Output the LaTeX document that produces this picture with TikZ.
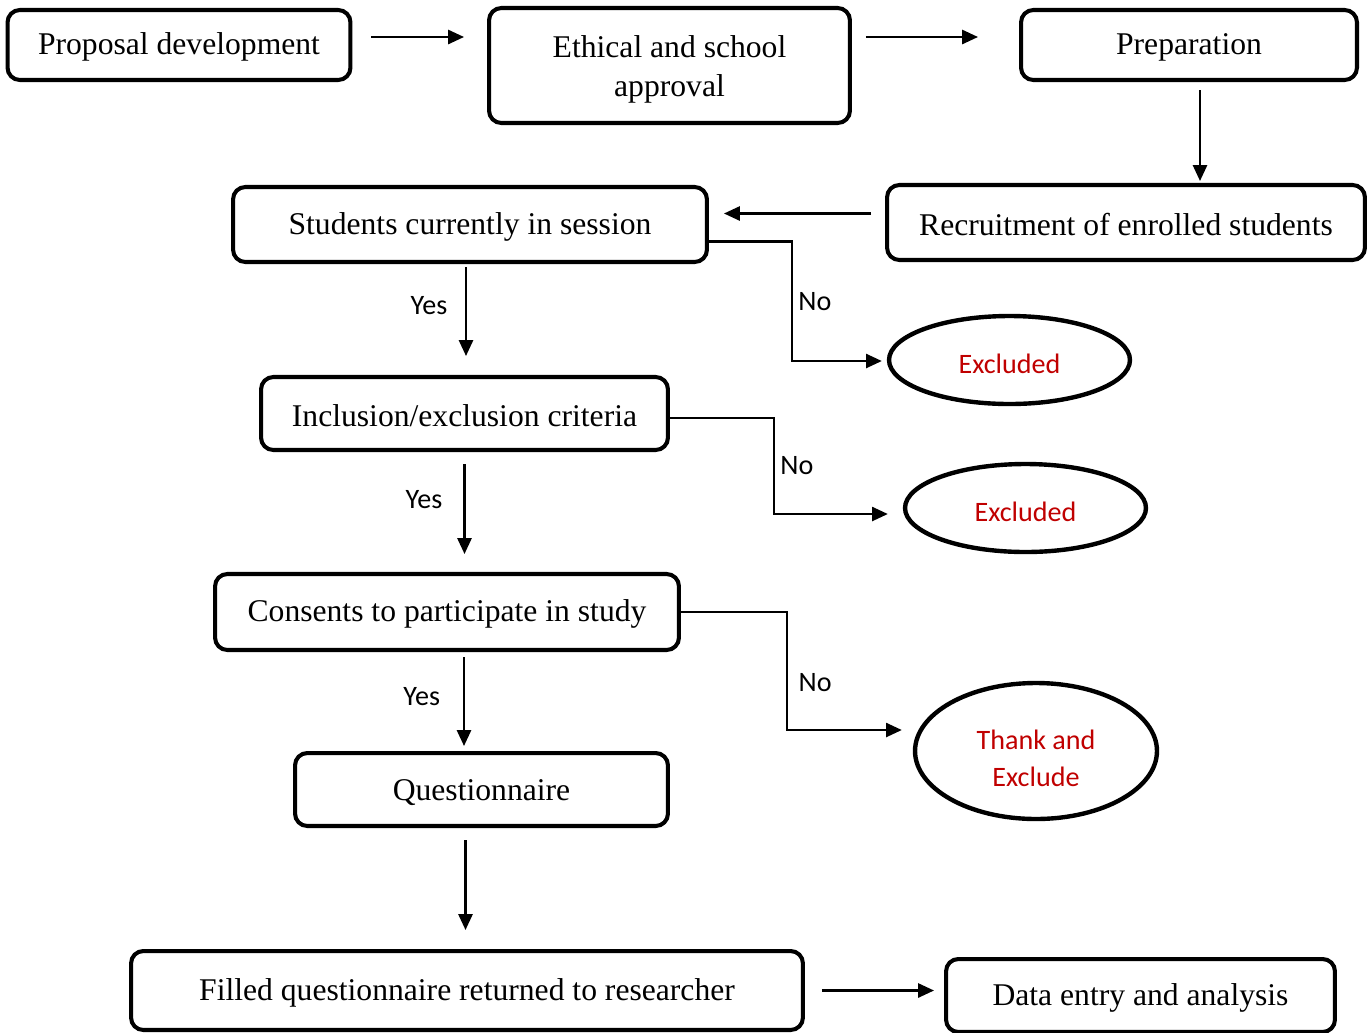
\documentclass[tikz,border=0pt]{standalone}
\usepackage{fontspec}
\setmainfont{Liberation Serif}
\newfontfamily\calibri{Carlito}
\usepackage{xcolor}
\usetikzlibrary{shapes,arrows.meta,positioning,calc}
\definecolor{exred}{RGB}{192,0,0}

\begin{document}
\begin{tikzpicture}[x=0.02cm, y=-0.02cm,
    box/.style={draw, line width=2.3pt, rounded corners=7pt, align=center, inner sep=0pt, text height=15pt, font=\fontsize{18}{22}\selectfont},
    oval/.style={draw, ellipse, line width=2.5pt, inner sep=0pt, align=center, text=exred, text height=15pt, font=\calibri\fontsize{16}{21.5}\selectfont},
    arr/.style={line width=1.3pt, -{Triangle[length=9pt,width=8pt]}},
    lbl/.style={font=\calibri\fontsize{16}{19}\selectfont, inner sep=0pt}]
    \useasboundingbox (0,0) rectangle (1369,1032);

    % top row
    \node[box, minimum width=6.86cm, minimum height=1.4cm] (proposal) at (179,45) {Proposal development};
    \node[box, minimum width=7.22cm, minimum height=2.3cm, text height=39pt] (ethics) at (669.5,65.5) {Ethical and school\\approval};
    \node[box, minimum width=6.72cm, minimum height=1.4cm] (prep) at (1189,45) {Preparation};
    \node[box, minimum width=9.56cm, minimum height=1.5cm] (recruit) at (1126,222.5) {Recruitment of enrolled students};

    % main column
    \node[box, minimum width=9.48cm, minimum height=1.5cm] (session) at (470,224.5) {Students currently in session};
    \node[box, minimum width=8.14cm, minimum height=1.46cm] (criteria) at (464.5,413.5) {Inclusion/exclusion criteria};
    \node[box, minimum width=9.28cm, minimum height=1.52cm] (consent) at (447,612) {Consents to participate in study};
    \node[box, minimum width=7.46cm, minimum height=1.46cm] (quest) at (481.5,789.5) {Questionnaire};
    \node[box, minimum width=13.44cm, minimum height=1.58cm] (filled) at (467,990.5) {Filled questionnaire returned to researcher};
    \node[box, minimum width=7.78cm, minimum height=1.46cm] (entry) at (1140.5,995.5) {Data entry and analysis};

    % exits
    \node[oval, minimum width=4.82cm, minimum height=1.76cm] (excl1) at (1009.5,360) {Excluded};
    \node[oval, minimum width=4.82cm, minimum height=1.76cm] (excl2) at (1025.5,508) {Excluded};
    \node[oval, minimum width=4.84cm, minimum height=2.72cm, text height=41pt] (thank) at (1036,751) {Thank and\\Exclude};

    % flow
    \draw[arr] ($(proposal.east)+(19,-8)$) -- ($(proposal.east -| ethics.west)+(-23,-8)$);
    \draw[arr] ($(ethics.east |- prep.west)+(14,-8)$) -- ($(prep.west)+(-41,-8)$);
    \draw[arr] ($(prep.south)+(11,8)$) -- ($(prep.south |- recruit.north)+(11,-2)$);
    \draw[arr] ($(recruit.west)+(-14,-9)$) -- ($(recruit.west -| session.east)+(15,-9)$);

    \draw[arr] ($(session.south)+(-4,3)$) -- node[lbl, pos=0.43, left=10pt] {Yes} ($(session.south |- criteria.north)+(-4,-19)$);
    \draw[arr] ($(criteria.south)+(0,12)$) -- node[lbl, pos=0.39, left=12pt] {Yes} ($(criteria.south |- consent.north)+(0,-18)$);
    \draw[arr] ($(consent.south)+(17,5)$) -- node[lbl, pos=0.45, left=13pt] {Yes} ($(consent.south |- quest.north)+(17,-5)$);
    \draw[arr] ($(quest.south)+(-16,12)$) -- ($(quest.south |- filled.north)+(-16,-19)$);
    \draw[arr] ($(filled.east)+(17,0)$) -- ($(filled.east -| entry.west)+(-10,0)$);

    % no branches
    \draw[arr] ($(session.east)+(0,17)$) -- ++(83,0) |- node[lbl, pos=0.25, right=3pt] {No} ($(excl1.west)+(-5,1)$);
    \draw[arr] ($(criteria.east)+(0,4.5)$) -- ++(104,0) |- node[lbl, pos=0.25, right=3pt] {No} ($(excl2.west)+(-15,6)$);
    \draw[arr] (consent.east) -- ++(106,0) |- node[lbl, pos=0.3, right=6pt] {No} ($(thank.west)+(-11,-21)$);
\end{tikzpicture}
\end{document}
